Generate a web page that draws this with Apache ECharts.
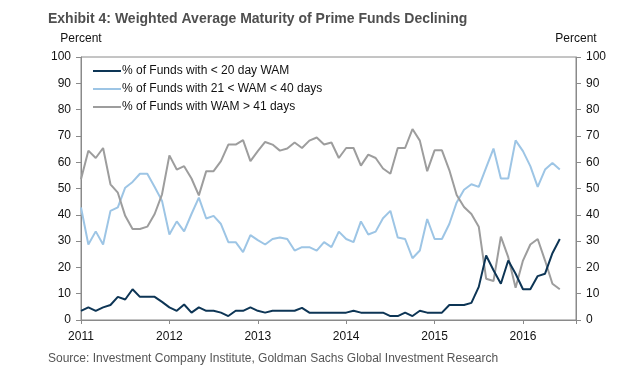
<!DOCTYPE html>
<html>
<head>
<meta charset="utf-8">
<script src="https://cdn.jsdelivr.net/npm/echarts@6/dist/echarts.min.js"></script>
<style>
html,body{margin:0;padding:0;background:#fff;}
#c{width:634px;height:385px;}
</style>
</head>
<body>
<div id="c"></div>
<script>
// Monthly observations, Jan 2011 .. Jun 2016
const startYear = 2011;
const seriesNames = ['% of Funds with < 20 day WAM', '% of Funds with 21 < WAM < 40 days', '% of Funds with WAM > 41 days'];
const yearTicks = [2011, 2012, 2013, 2014, 2015, 2016];
const yTicks = [0, 10, 20, 30, 40, 50, 60, 70, 80, 90, 100];

const under20 = [3.5, 4.8, 3.5, 4.8, 5.7, 8.8, 7.8, 11.7, 8.8, 8.8, 8.8, 6.9,
  4.8, 3.5, 5.9, 2.8, 4.8, 3.5, 3.5, 2.8, 1.5, 3.5, 3.5, 4.8,
  3.5, 2.8, 3.5, 3.5, 3.5, 3.5, 4.6, 2.8, 2.8, 2.8, 2.8, 2.8,
  2.8, 3.5, 2.8, 2.8, 2.8, 2.8, 1.5, 1.5, 2.8, 1.5, 3.5, 2.8,
  2.8, 2.8, 5.7, 5.7, 5.7, 6.5, 12.6, 24.5, 18.9, 13.8, 22.6, 17.6,
  11.7, 11.7, 16.7, 17.6, 25.4, 30.8];
const mid21to40 = [42.8, 28.7, 33.7, 28.7, 41.5, 42.8, 50.3, 52.5, 55.6, 55.6, 50.6, 45.3,
  32.5, 37.5, 33.7, 40.3, 46.5, 38.6, 39.6, 36.5, 29.6, 29.6, 25.8, 32.3,
  30.4, 28.7, 30.8, 31.4, 30.8, 26.4, 27.7, 27.7, 26.4, 29.6, 27.7, 33.6,
  30.8, 29.6, 37.5, 32.5, 33.6, 38.7, 41.5, 31.4, 30.8, 23.5, 26.4, 38.4,
  30.8, 30.8, 36.5, 44.7, 49.5, 51.6, 50.6, 57.9, 65.2, 53.8, 53.8, 68.3,
  64.2, 58.5, 50.6, 57.2, 59.7, 57.2];
const over41 = [53.5, 64.4, 61.6, 65.4, 51.6, 48.4, 39.6, 34.6, 34.6, 35.5, 40.3, 47.8,
  62.6, 57.2, 58.5, 53.8, 47.4, 56.6, 56.6, 60.4, 66.7, 66.7, 68.4, 60.4,
  64.2, 67.7, 66.7, 64.4, 65.2, 67.5, 65.4, 68.2, 69.4, 66.7, 67.5, 61.6,
  65.4, 65.4, 58.7, 62.9, 61.6, 57.6, 55.6, 65.4, 65.4, 72.6, 68.2, 56.6,
  64.5, 64.5, 57, 47.5, 43, 40.3, 35.5, 15.7, 14.8, 31.7, 23.9, 12.3,
  22.6, 28.7, 30.8, 22.6, 13.8, 11.7];

const colors = ['#0d3555', '#9dc5e5', '#9d9d9d'];
const axisColor = '#8a8a8a';
const font = 'Arial, "Liberation Sans", sans-serif';

const toPairs = arr => arr.map((v, i) => [i, v]);

const chart = echarts.init(document.getElementById('c'), null, {renderer: 'canvas'});

const yAxisCommon = {
  type: 'value', min: 0, max: 100, interval: 10,
  name: 'Percent', nameLocation: 'end', nameGap: 12,
  nameTextStyle: {color: '#111', fontSize: 12, fontFamily: font},
  axisLine: {show: true, lineStyle: {color: axisColor}},
  axisTick: {show: true, length: 5, lineStyle: {color: axisColor}},
  axisLabel: {color: '#111', fontSize: 12, fontFamily: font, margin: 10},
  splitLine: {show: false}
};

chart.setOption({
  animation: false,
  backgroundColor: '#fff',
  title: [
    {text: 'Exhibit 4: Weighted Average Maturity of Prime Funds Declining', left: 43, top: 7,
      textStyle: {color: '#4f4f4f', fontSize: 14, fontWeight: 'bold', fontFamily: font}},
    {text: 'Source: Investment Company Institute, Goldman Sachs Global Investment Research', left: 43, top: 348,
      textStyle: {color: '#555', fontSize: 12, fontWeight: 'normal', fontFamily: font}}
  ],
  grid: {left: 81, right: 58, top: 57, bottom: 65, show: true, borderColor: axisColor, borderWidth: 1},
  legend: {
    orient: 'vertical', left: 88, top: 60, itemWidth: 28, itemHeight: 2, itemGap: 6,
    icon: 'rect',
    textStyle: {color: '#111', fontSize: 12, fontFamily: font, lineHeight: 12, padding: [0, 0, 0, -4]},
    data: seriesNames
  },
  xAxis: {
    type: 'value', min: 0, max: 67.2, interval: 12,
    axisLine: {show: true, onZero: false, lineStyle: {color: axisColor}},
    axisTick: {show: true, length: 4, lineStyle: {color: axisColor}},
    axisLabel: {color: '#111', fontSize: 12, fontFamily: font, margin: 11,
      formatter: v => (v % 12 === 0 && yearTicks.indexOf(startYear + v / 12) >= 0) ? String(startYear + v / 12) : ''},
    splitLine: {show: false}
  },
  yAxis: [
    Object.assign({}, yAxisCommon, {position: 'left'}),
    Object.assign({}, yAxisCommon, {position: 'right'})
  ],
  series: [
    {name: seriesNames[0], type: 'line', data: toPairs(under20), symbol: 'none', lineStyle: {width: 2, color: colors[0]}, itemStyle: {color: colors[0]}, z: 5},
    {name: seriesNames[1], type: 'line', data: toPairs(mid21to40), symbol: 'none', lineStyle: {width: 2, color: colors[1]}, itemStyle: {color: colors[1]}, z: 3},
    {name: seriesNames[2], type: 'line', data: toPairs(over41), symbol: 'none', lineStyle: {width: 2, color: colors[2]}, itemStyle: {color: colors[2]}, z: 4}
  ]
});
</script>
</body>
</html>
